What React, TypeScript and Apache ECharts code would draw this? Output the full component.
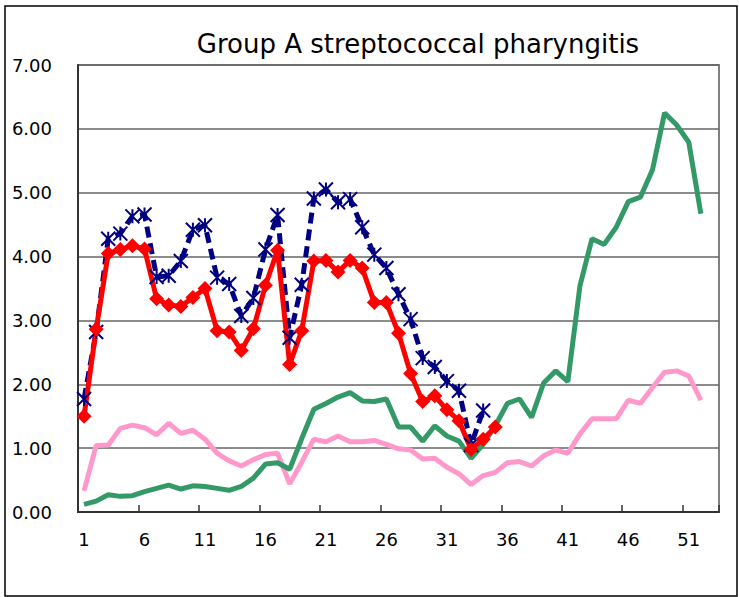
import React, { useEffect, useRef } from "react";
import * as echarts from "echarts";

const weeks: string[] = Array.from({ length: 53 }, (_, i) => String(i + 1));
const yTicks = [0, 1, 2, 3, 4, 5, 6, 7];

const navySeries = [1.77, 2.82, 4.28, 4.36, 4.63, 4.66, 3.68, 3.70, 3.93, 4.42, 4.49, 3.67, 3.57, 3.07, 3.35, 4.11, 4.65, 2.73, 3.56, 4.91, 5.05, 4.85, 4.90, 4.46, 4.03, 3.82, 3.41, 3.02, 2.41, 2.27, 2.05, 1.90, 1.05, 1.59];

const redSeries = [1.50, 2.86, 4.05, 4.11, 4.17, 4.12, 3.34, 3.24, 3.22, 3.36, 3.50, 2.84, 2.82, 2.53, 2.87, 3.55, 4.10, 2.31, 2.84, 3.93, 3.94, 3.76, 3.94, 3.82, 3.28, 3.28, 2.80, 2.17, 1.73, 1.82, 1.60, 1.43, 0.98, 1.14, 1.33];

const greenSeries = [0.12, 0.17, 0.27, 0.245, 0.255, 0.32, 0.37, 0.42, 0.36, 0.41, 0.40, 0.37, 0.34, 0.40, 0.53, 0.75, 0.77, 0.67, 1.15, 1.61, 1.70, 1.80, 1.87, 1.74, 1.73, 1.77, 1.33, 1.33, 1.11, 1.35, 1.19, 1.11, 0.84, 1.06, 1.35, 1.70, 1.77, 1.48, 2.02, 2.21, 2.04, 3.54, 4.28, 4.19, 4.46, 4.86, 4.93, 5.36, 6.25, 6.06, 5.79, 4.67];

const pinkSeries = [0.33, 1.04, 1.05, 1.31, 1.36, 1.32, 1.21, 1.39, 1.23, 1.28, 1.14, 0.92, 0.80, 0.72, 0.82, 0.90, 0.92, 0.44, 0.78, 1.14, 1.10, 1.19, 1.10, 1.10, 1.12, 1.06, 0.99, 0.97, 0.83, 0.84, 0.70, 0.60, 0.43, 0.57, 0.62, 0.77, 0.79, 0.72, 0.88, 0.97, 0.92, 1.22, 1.46, 1.46, 1.46, 1.75, 1.70, 1.95, 2.19, 2.21, 2.13, 1.75];

const FONT = "DejaVu Sans";

export default function App() {
  const ref = useRef<HTMLDivElement>(null);
  useEffect(() => {
    if (!ref.current) return;
    const chart = echarts.init(ref.current, null, { renderer: "svg" });
    chart.setOption({
      animation: false,
      backgroundColor: "#ffffff",
      title: {
        text: "Group A streptococcal pharyngitis",
        left: 413,
        top: 26,
        textAlign: "center",
        textStyle: { fontFamily: FONT, fontSize: 26, fontWeight: "normal", color: "#000" },
      },
      graphic: [
        {
          type: "rect",
          shape: { x: 5, y: 6, width: 732, height: 590 },
          style: { fill: "none", stroke: "#000", lineWidth: 1.5 },
          silent: true,
        },
      ],
      grid: {
        left: 78,
        top: 65,
        right: 20,
        bottom: 85,
        show: true,
        borderColor: "#808080",
        borderWidth: 2,
        containLabel: false,
      },
      xAxis: {
        type: "category",
        data: weeks,
        boundaryGap: true,
        axisLine: { lineStyle: { color: "#333", width: 2 } },
        axisTick: { show: true, inside: true, length: 7, interval: 4, lineStyle: { color: "#333", width: 1.5 } },
        axisLabel: { interval: 4, fontFamily: FONT, fontSize: 18, color: "#000", margin: 18 },
        splitLine: { show: false },
      },
      yAxis: {
        type: "value",
        min: yTicks[0],
        max: yTicks[yTicks.length - 1],
        interval: 1,
        axisLine: { show: true, lineStyle: { color: "#333", width: 2 } },
        axisTick: { show: false },
        axisLabel: {
          fontFamily: FONT,
          fontSize: 18,
          color: "#000",
          margin: 26,
          formatter: (v: number) => v.toFixed(2),
        },
        splitLine: { show: true, lineStyle: { color: "#666", width: 1.5 } },
      },
      series: [
        {
          name: "pink",
          type: "line",
          data: pinkSeries,
          showSymbol: false,
          symbol: "none",
          lineStyle: { color: "#FF99CC", width: 5 },
          itemStyle: { color: "#FF99CC" },
        },
        {
          name: "green",
          type: "line",
          data: greenSeries,
          showSymbol: false,
          symbol: "none",
          lineStyle: { color: "#339966", width: 5 },
          itemStyle: { color: "#339966" },
        },
        {
          name: "navy",
          type: "line",
          data: navySeries,
          showAllSymbol: true,
          symbol: "path://M0,0L10,10M10,0L0,10M5,0L5,10",
          symbolSize: 14,
          lineStyle: { color: "#000080", width: 5, type: [11, 6] },
          itemStyle: { color: "#000080", borderColor: "#000080", borderWidth: 2 },
        },
        {
          name: "red",
          type: "line",
          data: redSeries,
          showAllSymbol: true,
          symbol: "diamond",
          symbolSize: 15,
          lineStyle: { color: "#FF0000", width: 5 },
          itemStyle: { color: "#FF0000", borderWidth: 0 },
        },
      ],
    });
    return () => chart.dispose();
  }, []);
  return (
    <div
      ref={ref}
      style={{ position: "fixed", left: 0, top: 0, width: 739, height: 597 }}
    />
  );
}
